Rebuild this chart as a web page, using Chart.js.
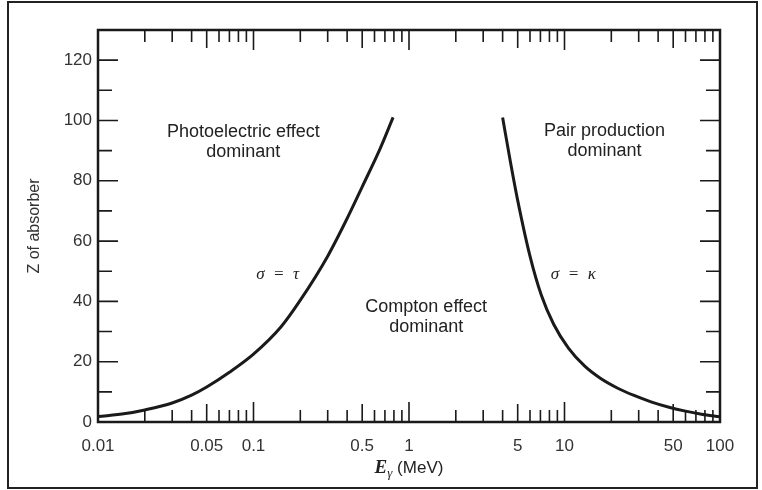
<!DOCTYPE html>
<html>
<head>
<meta charset="utf-8">
<script src="https://cdn.jsdelivr.net/npm/chart.js@4"></script>
<style>
html, body { margin: 0; padding: 0; background: #fff; }
#wrap { position: relative; width: 762px; height: 490px; }
#frame { position: absolute; left: 7px; top: 1px; width: 747px; height: 484px; border: 2px solid #222; pointer-events: none; }
canvas { position: absolute; left: 0; top: 0; }
</style>
</head>
<body>
<div id="wrap"><canvas id="myChart" width="762" height="490"></canvas><div id="frame"></div></div>
<script>
// sigma = tau boundary (photoelectric vs compton)
var tauEnergy = [0.01, 0.015, 0.02, 0.03, 0.04, 0.05, 0.07, 0.1, 0.15, 0.2, 0.3, 0.4, 0.5, 0.65, 0.79];
var tauZ = [1.8, 2.8, 4.0, 6.3, 8.9, 11.6, 16.5, 22.5, 31.5, 40.4, 55, 67.5, 78, 90.5, 101];

// sigma = kappa boundary (compton vs pair production)
var kappaEnergy = [4.0, 4.5, 5.0, 6.0, 7.1, 8.5, 10.6, 13.5, 17, 22, 28, 36, 47, 60, 76, 100];
var kappaZ = [101, 86, 73.5, 55, 42, 32.5, 24.5, 18.5, 14.5, 11.2, 8.8, 6.7, 4.9, 3.6, 2.6, 1.7];

var xTickValues = [0.01, 0.05, 0.1, 0.5, 1, 5, 10, 50, 100];
var xTickLabels = ['0.01', '0.05', '0.1', '0.5', '1', '5', '10', '50', '100'];
var yTickValues = [0, 20, 40, 60, 80, 100, 120];
var yTickLabels = ['0', '20', '40', '60', '80', '100', '120'];

// region labels, placed in data units
var notes = [
    { lines: ['Photoelectric effect', 'dominant'], e: 0.086, z: 96 },
    { lines: ['Pair production', 'dominant'], e: 18.1, z: 96.5 },
    { lines: ['Compton effect', 'dominant'], e: 1.29, z: 38 }
];
var greek = [
    { text: '\u03c3  =  \u03c4', e: 0.143, z: 48.8 },
    { text: '\u03c3  =  \u03ba', e: 11.4, z: 48.8 }
];

function toPoints(xs, ys) {
    return xs.map(function (v, i) { return { x: v, y: ys[i] }; });
}

// minor tick energies for the log axis (1..10 in every decade)
var minorTicks = [];
[0.01, 0.1, 1, 10].forEach(function (d) {
    for (var k = 1; k <= 10; k++) {
        minorTicks.push({ v: d * k, k: k });
    }
});

var sans = '"Liberation Sans", Arial, sans-serif';
var ink = '#1a1a1a';

const frameTicks = {
    id: 'frameTicks',
    afterDraw(chart) {
        const ctx = chart.ctx;
        const a = chart.chartArea;
        const xs = chart.scales.x;
        const ys = chart.scales.y;
        ctx.save();
        ctx.strokeStyle = ink;
        ctx.lineWidth = 2.5;
        ctx.strokeRect(a.left, a.top, a.right - a.left, a.bottom - a.top);

        ctx.lineWidth = 1.6;
        ctx.beginPath();
        minorTicks.forEach(function (t) {
            if (t.k === 1 || t.v >= 100) return;
            var px = xs.getPixelForValue(t.v);
            var len = t.k === 10 ? 20 : (t.k === 5 ? 18 : 12);
            ctx.moveTo(px, a.bottom);
            ctx.lineTo(px, a.bottom - len);
            ctx.moveTo(px, a.top);
            ctx.lineTo(px, a.top + len);
        });
        for (var z = 10; z <= 120; z += 10) {
            var py = ys.getPixelForValue(z);
            var l = z % 20 === 0 ? 20 : 14;
            ctx.moveTo(a.left, py);
            ctx.lineTo(a.left + l, py);
            ctx.moveTo(a.right, py);
            ctx.lineTo(a.right - l, py);
        }
        ctx.stroke();

        // region labels
        ctx.fillStyle = '#222';
        ctx.textAlign = 'center';
        ctx.textBaseline = 'middle';
        ctx.font = '18px ' + sans;
        notes.forEach(function (n) {
            var px = xs.getPixelForValue(n.e);
            var py = ys.getPixelForValue(n.z);
            n.lines.forEach(function (s, i) {
                ctx.fillText(s, px, py + i * 20);
            });
        });
        ctx.font = 'italic 17px "Liberation Serif", "DejaVu Serif", serif';
        greek.forEach(function (g) {
            ctx.fillText(g.text, xs.getPixelForValue(g.e), ys.getPixelForValue(g.z));
        });

        // x axis title: E_gamma (MeV)
        var cx = (a.left + a.right) / 2;
        var ty = a.bottom + 51;
        ctx.textAlign = 'left';
        ctx.textBaseline = 'alphabetic';
        var f1 = 'italic bold 19px "Liberation Serif", serif';
        var f2 = 'italic 13px "Liberation Serif", serif';
        var f3 = '17px ' + sans;
        ctx.font = f1; var w1 = ctx.measureText('E').width;
        ctx.font = f2; var w2 = ctx.measureText('\u03b3').width;
        ctx.font = f3; var w3 = ctx.measureText(' (MeV)').width;
        var sx = cx - (w1 + w2 + w3) / 2;
        ctx.font = f1; ctx.fillText('E', sx, ty);
        ctx.font = f2; ctx.fillText('\u03b3', sx + w1, ty + 4);
        ctx.font = f3; ctx.fillText(' (MeV)', sx + w1 + w2, ty);
        ctx.restore();
    }
};

new Chart('myChart', {
    type: 'line',
    data: {
        datasets: [{
            data: toPoints(tauEnergy, tauZ),
            borderColor: ink,
            borderWidth: 3,
            pointRadius: 0,
            cubicInterpolationMode: 'monotone',
            fill: false
        }, {
            data: toPoints(kappaEnergy, kappaZ),
            borderColor: ink,
            borderWidth: 3,
            pointRadius: 0,
            cubicInterpolationMode: 'monotone',
            fill: false
        }]
    },
    options: {
        responsive: false,
        animation: false,
        layout: { padding: { left: 10, right: 42, top: 30, bottom: 0 } },
        plugins: {
            legend: { display: false },
            tooltip: { enabled: false }
        },
        scales: {
            x: {
                type: 'logarithmic',
                min: 0.01,
                max: 100,
                grid: { display: false, drawTicks: false },
                border: { display: false },
                afterBuildTicks: function (s) { s.ticks = xTickValues.map(function (v) { return { value: v }; }); },
                afterFit: function (s) { s.height = 68; },
                ticks: {
                    autoSkip: false,
                    maxRotation: 0,
                    padding: 14,
                    color: '#333',
                    font: { family: sans, size: 17 },
                    callback: function (v, i) { return xTickLabels[i]; }
                }
            },
            y: {
                type: 'linear',
                min: 0,
                max: 130,
                grid: { display: false, drawTicks: false },
                border: { display: false },
                afterBuildTicks: function (s) { s.ticks = yTickValues.map(function (v) { return { value: v }; }); },
                afterFit: function (s) { s.width = 88; },
                ticks: {
                    padding: 6,
                    color: '#333',
                    font: { family: sans, size: 17 },
                    callback: function (v, i) { return yTickLabels[i]; }
                },
                title: {
                    display: true,
                    text: 'Z of absorber',
                    color: '#333',
                    font: { family: sans, size: 16 },
                    padding: { top: 15, bottom: 0 }
                }
            }
        }
    },
    plugins: [frameTicks]
});
</script>
</body>
</html>
